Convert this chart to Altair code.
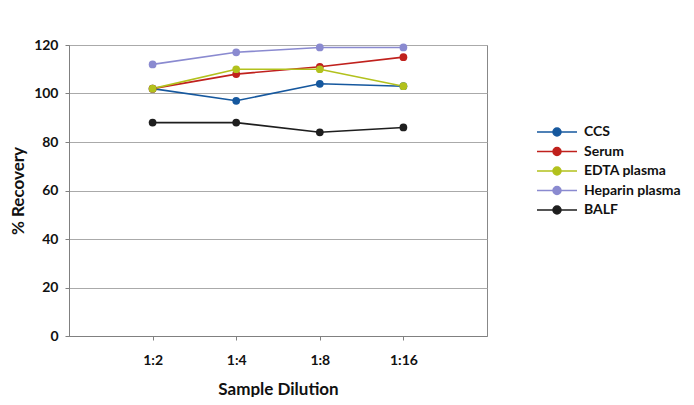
import altair as alt
import pandas as pd

dilutions = ["1:2", "1:4", "1:8", "1:16"]
series_names = ["CCS", "Serum", "EDTA plasma", "Heparin plasma", "BALF"]
ccs = [102, 97, 104, 103]
serum = [102, 108, 111, 115]
edta = [102, 110, 110, 103]
heparin = [112, 117, 119, 119]
balf = [88, 88, 84, 86]
colors = ["#16589e", "#c0211d", "#b2c11d", "#8a8ad0", "#1e1e1e"]

values = [ccs, serum, edta, heparin, balf]
rows = []
for name, vals in zip(series_names, values):
    for d, v in zip(dilutions, vals):
        rows.append({"Dilution": d, "Recovery": v, "Series": name})
df = pd.DataFrame(rows)

FONT = "Lato, Liberation Sans, sans-serif"
sym = "M-4,0H4M-0.8,0A0.8,0.8 0 1,1 0.8,0A0.8,0.8 0 1,1 -0.8,0Z"

def legend():
    return alt.Legend(
        title=None, orient="none", legendX=481, legendY=80,
        symbolType=sym, symbolSize=100, symbolStrokeWidth=1.5,
        labelOffset=20, rowPadding=5.5, labelFont=FONT, labelFontSize=14,
        labelFontWeight="bold", labelColor="#111111", labelLimit=400,
    )

scale = alt.Scale(domain=series_names, range=colors)
x = alt.X("Dilution:N", sort=dilutions, scale=alt.Scale(type="point", padding=1),
          axis=alt.Axis(title="Sample Dilution", labelAngle=0, tickSize=4,
                        labelPadding=13, titlePadding=14, grid=False))
y = alt.Y("Recovery:Q", scale=alt.Scale(domain=[0, 120], nice=False),
          axis=alt.Axis(title="% Recovery", values=[0, 20, 40, 60, 80, 100, 120],
                        tickSize=4, labelPadding=7, titlePadding=6))

base = alt.Chart(df)
lines = base.mark_line(strokeWidth=1.6).encode(
    x=x, y=y, stroke=alt.Stroke("Series:N", scale=scale, sort=series_names, legend=legend()),
    detail="Series:N",
)
points = base.mark_point(filled=True, size=60, opacity=1).encode(
    x=x, y=y, fill=alt.Fill("Series:N", scale=scale, sort=series_names, legend=legend()),
)

chart = alt.layer(lines, points).properties(
    width=418, height=291,
    autosize=alt.AutoSizeParams(type="none"),
    padding={"left": 61, "top": 37, "right": 199, "bottom": 61},
).configure_view(stroke="#888888", strokeWidth=1).configure_axis(
    labelFont=FONT, labelFontSize=14, labelFontWeight="bold", labelColor="#111111",
    titleFont=FONT, titleFontSize=17, titleFontWeight="bold", titleColor="#111111",
    domainColor="#808080", tickColor="#808080", gridColor="#aaaaaa", gridWidth=1,
)

chart.save("out.html", embed_options={"renderer": "svg", "actions": False})
